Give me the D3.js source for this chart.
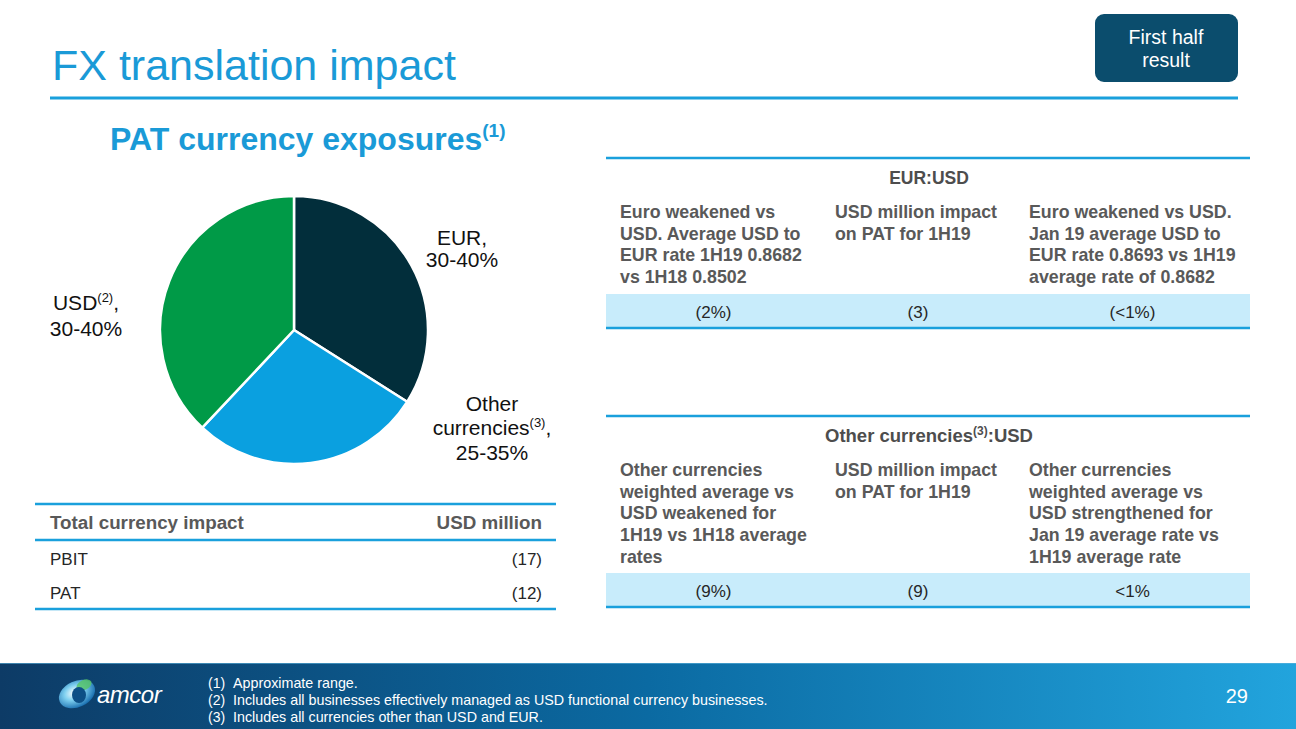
<!DOCTYPE html>
<html><head><meta charset="utf-8">
<script src="https://cdn.jsdelivr.net/npm/d3@7"></script>
<style>
html,body{margin:0;padding:0;background:#fff;}
svg{display:block;font-family:"Liberation Sans",Arial,sans-serif;}
</style></head>
<body><svg id="c" width="1296" height="729"></svg>
<script>
// ---- data ----
const pieCategories = ["EUR", "Other currencies", "USD"];
const pieValues = [34, 28, 38];
const pieRanges = ["30-40%", "25-35%", "30-40%"];
const pieColors = ["#022e3b", "#0aa0e0", "#009a47"];

const totalHeader = ["Total currency impact", "USD million"];
const totalRows = ["PBIT", "PAT"];
const totalValues = ["(17)", "(12)"];

const eurTitle = "EUR:USD";
const eurHeaders = [
  ["Euro weakened vs", "USD. Average USD to", "EUR rate 1H19 0.8682", "vs 1H18 0.8502"],
  ["USD million impact", "on PAT for 1H19"],
  ["Euro weakened vs USD.", "Jan 19 average USD to", "EUR rate 0.8693 vs 1H19", "average rate of 0.8682"]
];
const eurValues = ["(2%)", "(3)", "(<1%)"];

const othHeaders = [
  ["Other currencies", "weighted average vs", "USD weakened for", "1H19 vs 1H18 average", "rates"],
  ["USD million impact", "on PAT for 1H19"],
  ["Other currencies", "weighted average vs", "USD strengthened for", "Jan 19 average rate vs", "1H19 average rate"]
];
const othValues = ["(9%)", "(9)", "<1%"];

const footnotes = [
  "Approximate range.",
  "Includes all businesses effectively managed as USD functional currency businesses.",
  "Includes all currencies other than USD and EUR."
];

// ---- drawing ----
const svg = d3.select("#c");
const BLUE = "#1aa0dc";
const defs = svg.append("defs");

// title
svg.append("text").attr("x", 52).attr("y", 80).attr("font-size", 43).attr("fill", "#1a9ad7")
  .text("FX translation impact");
svg.append("line").attr("x1", 50).attr("x2", 1238).attr("y1", 98).attr("y2", 98)
  .attr("stroke", BLUE).attr("stroke-width", 3);

// badge
svg.append("rect").attr("x", 1095).attr("y", 14).attr("width", 143).attr("height", 68).attr("rx", 9)
  .attr("fill", "#0b4d6d");
svg.append("text").attr("x", 1166).attr("y", 44).attr("text-anchor", "middle").attr("font-size", 19.5)
  .attr("fill", "#fff").text("First half");
svg.append("text").attr("x", 1166).attr("y", 67).attr("text-anchor", "middle").attr("font-size", 19.5)
  .attr("fill", "#fff").text("result");

// subtitle
const st = svg.append("text").attr("x", 110).attr("y", 150).attr("font-size", 32).attr("font-weight", "bold")
  .attr("fill", "#1a9ad7");
st.append("tspan").text("PAT currency exposures");
st.append("tspan").attr("font-size", 19).attr("dy", -13).text("(1)");

// pie
const cx = 294, cy = 330, r = 134;
const pie = d3.pie().sort(null).value(d => d)(pieValues);
const arc = d3.arc().innerRadius(0).outerRadius(r);
svg.append("g").attr("transform", `translate(${cx},${cy})`)
  .selectAll("path").data(pie).join("path")
  .attr("d", arc).attr("fill", (d, i) => pieColors[i])
  .attr("stroke", "#fff").attr("stroke-width", 2.5).attr("stroke-linejoin", "round");

function label(x, lines) {
  lines.forEach(([y, parts]) => {
    const t = svg.append("text").attr("x", x).attr("y", y).attr("text-anchor", "middle")
      .attr("font-size", 21).attr("fill", "#111");
    parts.forEach(p => {
      if (p.sup) t.append("tspan").attr("font-size", 13).attr("dy", -8).text(p.t);
      else t.append("tspan").attr("dy", p.after ? 8 : 0).text(p.t);
    });
  });
}
label(462, [[245, [{t: pieCategories[0] + ","}]], [267, [{t: pieRanges[0]}]]]);
label(86, [[310, [{t: "USD"}, {t: "(2)", sup: true}, {t: ",", after: true}]], [336, [{t: pieRanges[2]}]]]);
label(492, [[411, [{t: "Other"}]], [435, [{t: "currencies"}, {t: "(3)", sup: true}, {t: ",", after: true}]], [460, [{t: pieRanges[1]}]]]);

// left table
const hl = (x1, x2, y) => svg.append("line").attr("x1", x1).attr("x2", x2).attr("y1", y).attr("y2", y)
  .attr("stroke", BLUE).attr("stroke-width", 2.5);
hl(35, 556, 504); hl(35, 556, 540); hl(35, 556, 609);
svg.append("text").attr("x", 50).attr("y", 529).attr("font-size", 18.8).attr("font-weight", "bold")
  .attr("fill", "#595959").text(totalHeader[0]);
svg.append("text").attr("x", 542).attr("y", 529).attr("font-size", 18.8).attr("font-weight", "bold")
  .attr("text-anchor", "end").attr("fill", "#595959").text(totalHeader[1]);
const rowY = d3.scalePoint().domain(totalRows).range([565, 599]);
totalRows.forEach((rw, i) => {
  svg.append("text").attr("x", 50).attr("y", rowY(rw)).attr("font-size", 17).attr("fill", "#262626").text(rw);
  svg.append("text").attr("x", 542).attr("y", rowY(rw)).attr("font-size", 17).attr("text-anchor", "end")
    .attr("fill", "#262626").text(totalValues[i]);
});

// right tables
const colStarts = [606, 821, 1015, 1250];
function fxTable(top, titleParts, titleSize, headers, values, bandTop, bandBot) {
  hl(606, 1250, top);
  const tt = svg.append("text").attr("x", 929).attr("y", top + 26).attr("text-anchor", "middle")
    .attr("font-size", titleSize).attr("font-weight", "bold").attr("fill", "#4d4d4d");
  titleParts.forEach(p => {
    if (p.sup) tt.append("tspan").attr("font-size", 12).attr("dy", -7).text(p.t);
    else tt.append("tspan").attr("dy", p.after ? 7 : 0).text(p.t);
  });
  headers.forEach((lines, c) => {
    lines.forEach((ln, k) => {
      svg.append("text").attr("x", colStarts[c] + 14).attr("y", top + 60 + k * 21.7)
        .attr("font-size", 17.8).attr("font-weight", "bold").attr("fill", "#595959").text(ln);
    });
  });
  svg.append("rect").attr("x", 606).attr("y", bandTop).attr("width", 644).attr("height", bandBot - bandTop)
    .attr("fill", "#c8ecfb");
  hl(606, 1250, bandBot + 1);
  values.forEach((v, c) => {
    svg.append("text").attr("x", (colStarts[c] + colStarts[c + 1]) / 2)
      .attr("y", bandTop + 24).attr("text-anchor", "middle").attr("font-size", 17)
      .attr("fill", "#262626").text(v);
  });
}
fxTable(158, [{t: eurTitle}], 17.5, eurHeaders, eurValues, 294, 327);
fxTable(416, [{t: "Other currencies"}, {t: "(3)", sup: true}, {t: ":USD", after: true}], 18.5, othHeaders, othValues, 573, 606);

// footer
const g = defs.append("linearGradient").attr("id", "fg").attr("x1", 0).attr("x2", 1).attr("y1", 0).attr("y2", 0);
g.append("stop").attr("offset", 0).attr("stop-color", "#0d3b66");
g.append("stop").attr("offset", 0.5).attr("stop-color", "#0b6aa2");
g.append("stop").attr("offset", 1).attr("stop-color", "#22a4dd");
svg.append("rect").attr("x", 0).attr("y", 663).attr("width", 1296).attr("height", 66).attr("fill", "url(#fg)");
svg.append("line").attr("x1", 0).attr("x2", 1296).attr("y1", 663.5).attr("y2", 663.5)
  .attr("stroke", "#5fb3dc").attr("stroke-width", 1).attr("opacity", 0.6);

// logo
const lg = defs.append("radialGradient").attr("id", "lg").attr("cx", 0.45).attr("cy", 0.4).attr("r", 0.6);
lg.append("stop").attr("offset", 0).attr("stop-color", "#ffffff");
lg.append("stop").attr("offset", 0.45).attr("stop-color", "#7fd0f0");
lg.append("stop").attr("offset", 1).attr("stop-color", "#1a6fb0");
svg.append("ellipse").attr("cx", 77).attr("cy", 694).attr("rx", 19).attr("ry", 13)
  .attr("transform", "rotate(-25 77 694)").attr("fill", "url(#lg)");
svg.append("ellipse").attr("cx", 84).attr("cy", 685).attr("rx", 8).attr("ry", 5)
  .attr("transform", "rotate(-25 84 685)").attr("fill", "#57c46b").attr("opacity", 0.85);
svg.append("ellipse").attr("cx", 79).attr("cy", 695).attr("rx", 7).attr("ry", 8)
  .attr("fill", "#0d4f86");
svg.append("text").attr("x", 97).attr("y", 703).attr("font-size", 24).attr("font-style", "italic")
  .attr("fill", "#fff").attr("letter-spacing", -0.5).text("amcor");

footnotes.forEach((f, i) => {
  svg.append("text").attr("x", 208).attr("y", 688 + i * 17).attr("font-size", 14).attr("fill", "#fff")
    .text(`(${i + 1})`);
  svg.append("text").attr("x", 233).attr("y", 688 + i * 17).attr("font-size", 14.3).attr("fill", "#fff")
    .text(f);
});
svg.append("text").attr("x", 1248).attr("y", 703).attr("text-anchor", "end").attr("font-size", 20)
  .attr("fill", "#fff").text("29");
</script>
</body></html>
